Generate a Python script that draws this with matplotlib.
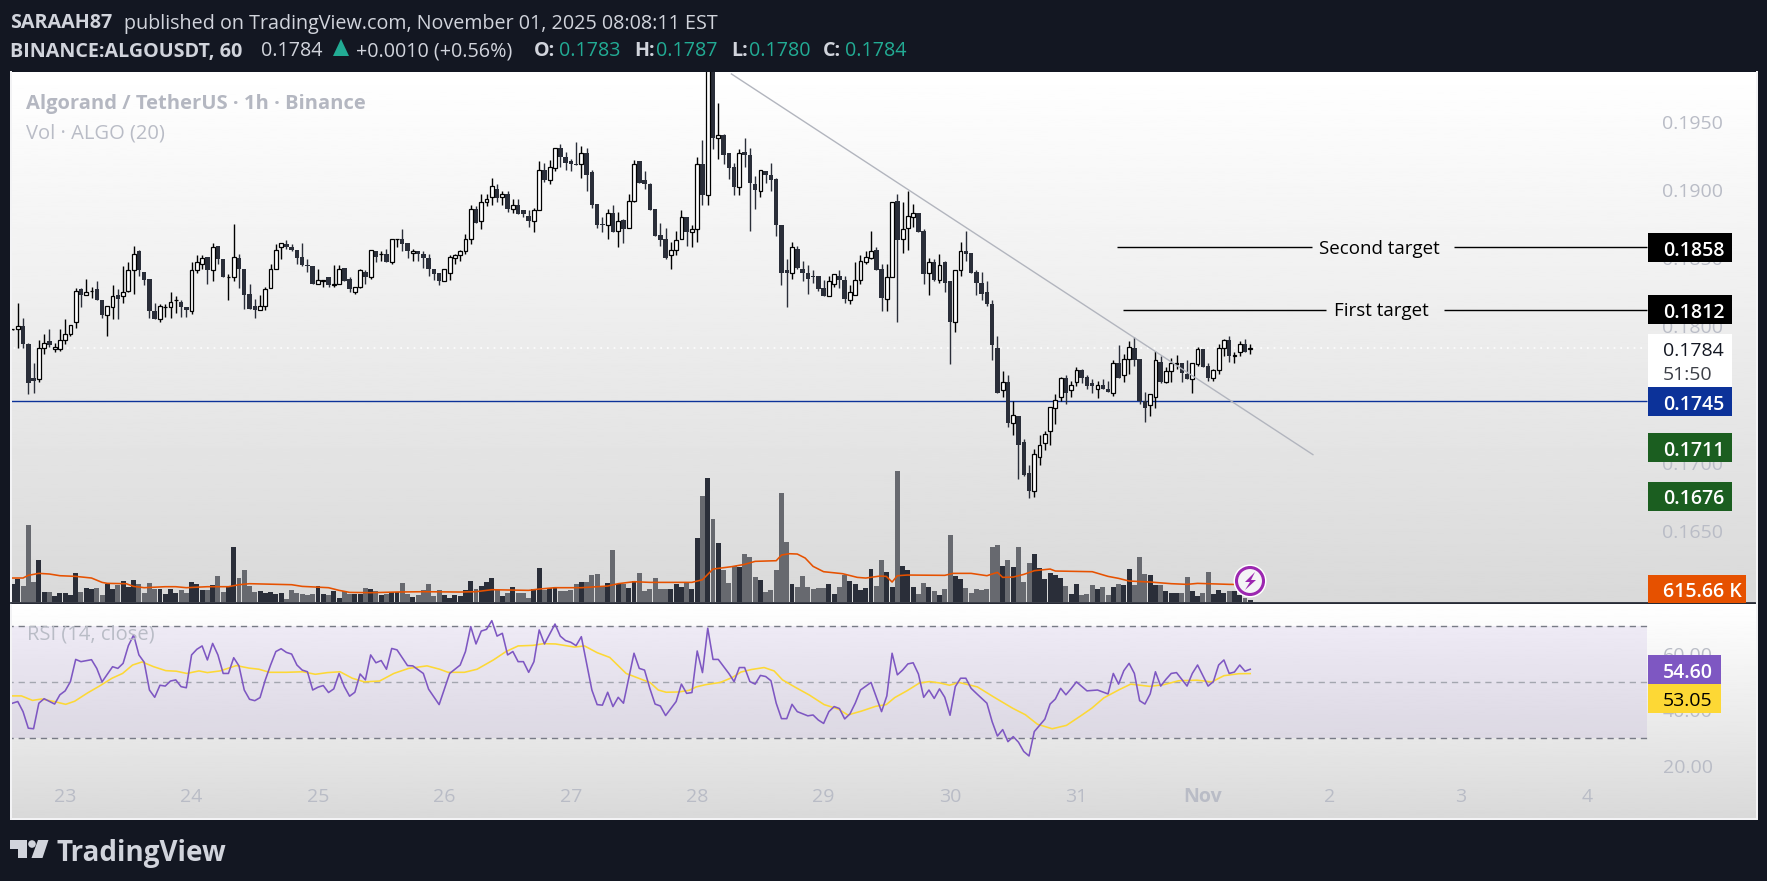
import matplotlib
matplotlib.use('Agg')
import matplotlib.pyplot as plt
from matplotlib.patches import Circle, Polygon, Rectangle
import numpy as np

W, H = 1767, 881

# hourly candles, prices in ten-thousandths of a dollar
opens = [1798,1798,1800,1787,1762,1761,1784,1789,1783,1783,1790,1794,1803,1827,1823,1826,1827,1819,1808,1814,1823,1822,1826,1841,1855,1840,1835,1811,1805,1814,
         1814,1819,1818,1814,1811,1841,1846,1851,1841,1859,1849,1836,1836,1850,1842,1824,1815,1812,1815,1828,1842,1858,1860,1858,1856,1851,1845,1844,1831,1833,
         1836,1830,1831,1843,1835,1825,1829,1840,1836,1855,1853,1853,1847,1864,1864,1861,1854,1855,1853,1850,1842,1839,1833,1839,1850,1852,1855,1864,1886,1877,
         1891,1895,1901,1895,1897,1886,1889,1885,1881,1877,1885,1915,1907,1916,1931,1924,1921,1919,1919,1927,1913,1890,1875,1874,1883,1870,1878,1872,1892,1921,
         1907,1904,1886,1867,1864,1852,1856,1864,1880,1869,1871,1919,1896,1990,1938,1940,1927,1917,1902,1928,1926,1904,1899,1914,1911,1908,1874,1841,1839,1857,
         1842,1839,1837,1837,1828,1822,1831,1837,1834,1819,1823,1834,1847,1850,1856,1842,1820,1836,1892,1864,1872,1880,1883,1870,1839,1847,1834,1847,1833,1803,
         1841,1855,1854,1840,1832,1825,1816,1784,1753,1759,1729,1734,1715,1692,1679,1704,1714,1723,1740,1748,1762,1753,1759,1768,1763,1758,1754,1757,1754,1751,
         1773,1764,1776,1784,1776,1745,1742,1748,1774,1759,1767,1772,1773,1765,1761,1772,1783,1771,1762,1768,1784,1790,1778,1781,1787,1783]
highs = [1798,1817,1806,1788,1773,1790,1794,1798,1788,1798,1805,1801,1828,1828,1835,1829,1833,1819,1815,1830,1827,1844,1847,1859,1856,1840,1835,1817,1816,1816,
         1825,1822,1819,1814,1847,1852,1852,1851,1861,1859,1849,1838,1875,1853,1842,1831,1820,1823,1829,1846,1860,1861,1863,1860,1856,1861,1849,1844,1842,1834,
         1836,1845,1845,1843,1836,1829,1842,1841,1856,1855,1855,1857,1864,1864,1871,1861,1857,1855,1855,1853,1842,1839,1842,1852,1853,1856,1868,1889,1888,1897,
         1897,1909,1904,1899,1899,1893,1893,1885,1885,1887,1921,1920,1922,1931,1934,1928,1923,1935,1932,1931,1915,1890,1880,1886,1889,1884,1879,1897,1922,1921,
         1914,1905,1886,1876,1872,1862,1870,1885,1880,1874,1924,1937,1995,1995,1964,1941,1927,1920,1930,1938,1931,1910,1915,1914,1920,1909,1874,1849,1862,1859,
         1848,1845,1841,1837,1834,1837,1838,1841,1837,1830,1847,1852,1855,1870,1858,1846,1846,1891,1897,1891,1899,1890,1883,1871,1850,1849,1853,1848,1833,1841,
         1862,1870,1854,1841,1840,1833,1819,1793,1767,1764,1745,1734,1717,1698,1710,1720,1723,1741,1750,1763,1764,1760,1770,1769,1764,1761,1760,1761,1760,1775,
         1786,1780,1789,1792,1776,1752,1750,1782,1778,1770,1777,1779,1773,1775,1773,1785,1783,1773,1769,1787,1791,1793,1781,1789,1791,1787]
lows = [1797,1784,1784,1750,1751,1759,1780,1785,1781,1782,1787,1793,1799,1814,1823,1821,1819,1806,1793,1805,1805,1817,1825,1824,1837,1830,1806,1805,1803,1807,
        1806,1810,1807,1807,1809,1839,1842,1831,1833,1846,1836,1819,1833,1828,1813,1813,1806,1812,1812,1828,1842,1849,1857,1855,1846,1844,1840,1831,1831,1829,
        1829,1829,1831,1833,1825,1824,1828,1831,1835,1847,1848,1847,1846,1858,1855,1850,1848,1848,1843,1837,1834,1830,1833,1834,1846,1848,1853,1860,1876,1871,
        1888,1889,1891,1889,1884,1883,1882,1880,1873,1869,1885,1906,1904,1914,1917,1915,1914,1918,1909,1899,1887,1872,1869,1864,1869,1858,1861,1872,1891,1905,
        1901,1885,1866,1859,1849,1842,1852,1864,1859,1858,1862,1889,1889,1930,1923,1919,1908,1896,1896,1917,1870,1886,1895,1905,1899,1866,1830,1814,1835,1842,
        1833,1824,1832,1826,1822,1822,1829,1828,1817,1816,1823,1831,1846,1849,1841,1811,1811,1836,1803,1854,1856,1873,1869,1831,1823,1833,1832,1825,1772,1796,
        1837,1848,1839,1823,1819,1815,1775,1751,1748,1726,1720,1688,1690,1674,1675,1698,1709,1713,1728,1745,1743,1748,1756,1758,1754,1751,1747,1754,1752,1749,
        1762,1759,1765,1771,1743,1730,1734,1740,1758,1758,1759,1769,1759,1761,1751,1771,1770,1760,1760,1765,1778,1774,1773,1778,1781,1780]
closes = [1798,1800,1787,1758,1760,1784,1788,1786,1785,1790,1794,1801,1826,1823,1825,1826,1819,1808,1815,1822,1820,1825,1841,1853,1841,1834,1811,1805,1815,1814,
          1818,1819,1814,1812,1841,1847,1850,1841,1858,1849,1836,1836,1851,1842,1823,1813,1812,1815,1827,1842,1856,1861,1858,1856,1850,1845,1844,1831,1834,1834,
          1830,1831,1842,1833,1827,1829,1841,1836,1856,1851,1853,1847,1864,1864,1860,1855,1855,1853,1850,1842,1838,1833,1842,1851,1852,1855,1864,1886,1876,1891,
          1893,1903,1894,1897,1886,1889,1882,1882,1877,1885,1915,1907,1917,1931,1924,1920,1919,1918,1927,1911,1889,1874,1874,1883,1869,1877,1871,1892,1919,1905,
          1904,1885,1866,1863,1850,1856,1863,1880,1869,1871,1919,1896,1990,1938,1940,1926,1916,1902,1927,1926,1905,1900,1915,1911,1907,1874,1839,1839,1858,1843,
          1839,1835,1836,1827,1822,1833,1838,1834,1820,1825,1834,1848,1851,1855,1841,1821,1836,1891,1863,1871,1881,1883,1869,1838,1847,1834,1845,1832,1803,1841,
          1855,1853,1839,1832,1824,1816,1786,1751,1759,1729,1735,1713,1691,1679,1706,1713,1721,1741,1746,1762,1751,1757,1768,1762,1756,1756,1757,1754,1752,1773,
          1762,1776,1785,1775,1745,1740,1750,1775,1759,1767,1773,1773,1766,1761,1773,1783,1770,1762,1768,1784,1790,1778,1779,1787,1781,1784]

# volume bars, thousands of ALGO
volumes = [616,787,547,2633,684,1436,342,342,205,308,308,239,992,342,479,445,479,239,616,445,581,718,513,752,616,308,650,445,445,274,
           445,308,410,308,684,616,410,410,581,889,342,513,1881,821,1094,547,342,376,308,342,274,308,103,410,308,274,239,274,547,274,
           239,376,137,376,274,274,274,479,445,376,239,274,342,342,650,274,171,239,410,616,205,410,239,137,239,205,410,718,445,547,
           684,821,410,205,308,513,308,308,137,445,1163,410,479,513,376,376,410,616,684,684,923,958,513,650,1778,616,616,479,718,992,
           376,445,821,445,445,445,616,513,650,445,2177,3625,4241,2839,2018,1094,650,1231,1197,1642,1539,855,752,342,410,1094,3728,2052,616,513,
           889,513,445,479,479,616,274,513,923,718,616,410,479,1129,547,1436,1026,513,4480,1231,1094,513,274,650,513,376,239,445,2291,889,
           787,479,308,445,410,445,1881,1949,1231,1436,1197,1881,684,1334,1642,1163,787,992,923,821,547,274,616,239,274,581,445,513,239,513,
           616,581,1129,581,1539,958,923,581,581,376,308,308,308,855,376,205,308,1026,274,410,308,376,353,239,125,46]
vol_ma_idx = [0,2,3,5,7,9,12,15,17,18,21.6,23,25,29,31,33,37,41,43,45,53,55,60,62,64,68,73,78,85,88,
              91,98,100,103,108,113,115,118,121,129,131,133,136.5,139,141,145,146,147.5,149,150.5,152,154,157.6,160.4,162,164.7,165.9,167,168,169.9,
              177,178.6,182,185,187,188,190,192,194,197,198,205,208,210,212,216,220,223,225,231,235]
vol_ma = [810,810,901,969,947,889,866,810,661,627,616,524,479,513,513,479,513,513,581,616,581,524,479,388,319,308,331,342,331,342,
          410,388,433,479,479,536,616,684,661,661,752,1117,1197,1277,1380,1402,1596,1641,1630,1493,1208,1026,958,832,809,877,866,673,889,912,
          901,969,969,889,1003,832,843,934,1060,1117,1049,1026,866,798,707,673,616,593,627,593,582]

rsi_idx = [0,1,2,3,4,5,6,8,9,10,11,12,13,15,16,17,19,20,21,22,23,24,25,26,27,28,29,30,31,32,33,34,35,36,37,38,39,40,41,42,43,44,45,46,47,48,49,50,51,52,53,54,55,56,57,58,59,60,61,62,
           63,64,65,66,67,68,69,70,71,72,73,75,76,78,79,81,83,85,86,87,88,89,90,91,92,93,94,95,96,97,98,99,100,101,103,104,105,106,107,108,110,111,112,113,114,115,116,118,119,120,121,
           122,123,124,126,127,128,129,130,131,132,133,134,136,137,138,139,140,141,142,143,144,145,146,147,148,149,151,152,153,154,155,156,157,158,159,160,161,163,165,166,167,168,169,170,171,172,173,174,175,176,177,178,179,180,181,182,183,
           185,186,187,188,189,190,191,192,193,194,196,197,198,199,200,201,202,204,206,208,209,210,211,212,213,214,215,216,217,218,219,220,221,223,224,225,227,228,229,230,231,232,233,234,235]
rsi = [42.5,43.1,39.5,33.6,33.4,42.5,44.1,42.2,45.5,46.9,50.2,58.1,57.3,58.0,54.9,50.1,55.5,54.9,56.7,63.0,66.8,59.7,57.1,47.2,44.6,48.9,48.6,50.4,50.8,48.4,48.0,59.7,61.7,62.9,57.9,63.8,59.7,53.1,53.1,58.7,55.8,47.2,43.9,43.4,44.5,50.8,56.1,60.9,61.9,60.6,60.0,56.1,54.3,53.7,47.2,48.2,48.8,46.3,47.6,53.1,
       48.4,45.0,46.4,52.9,50.8,59.7,56.9,57.7,54.6,62.0,61.5,55.9,55.8,53.1,47.5,42.0,53.1,56.1,60.9,69.8,63.6,68.2,68.8,71.9,66.4,67.4,59.7,60.9,57.3,57.3,53.5,57.3,68.6,63.6,70.7,66.4,64.8,64.2,63.0,66.2,47.2,42.0,41.8,46.4,41.3,44.6,42.5,60.3,54.9,54.3,47.8,
       42.2,41.5,38.1,43.1,49.3,46.0,46.3,61.1,53.4,69.2,58.1,58.1,53.1,50.2,55.2,55.2,50.2,49.3,52.4,52.0,50.5,42.5,37.0,37.0,42.1,39.5,38.0,38.3,36.5,35.3,39.5,41.3,40.6,36.9,38.7,42.5,47.2,49.9,39.5,45.1,60.3,52.6,54.3,56.5,56.9,52.9,44.6,47.2,44.2,47.6,44.6,38.2,48.4,51.4,51.4,47.8,46.0,
       42.5,35.9,30.8,33.1,28.8,30.6,28.6,25.3,23.7,32.4,36.8,42.2,44.0,47.8,45.5,47.7,50.1,46.9,47.2,45.8,53.1,49.3,54.1,56.7,53.1,43.4,42.2,45.8,53.7,48.6,51.0,53.1,53.4,48.6,53.1,56.1,48.6,50.2,56.1,57.9,53.1,53.6,56.1,53.9,54.6]
rsi_ma_idx = [0,1.7,3.8,5.5,7.9,10.1,11.8,14.2,16.5,18.9,20.9,22.8,24.6,26.8,29.1,31.1,33.1,35.4,37,39.4,42.5,44.9,46.8,48.8,52,55.1,57.5,59.8,62.2,64.5,66.8,69.7,72.4,75.2,78.7,81.1,82.7,85.8,88.2,91.3,93.7,96,98.8,100.8,103.1,106.7,108.6,111,113.4,116.5,121.1,
              122.6,124.1,126.5,128.5,129.8,131.6,134.4,136.7,138.3,140.3,142.7,144.6,146.2,148.6,151.3,154.1,156.8,158.6,161.2,163.9,165.9,167.5,169.8,172.2,174.1,176.1,177.9,179.7,183.2,186.4,189.9,192.3,194.6,197.4,200.1,202.9,204.9,207.2,210,212.3,215.9,218.6,221.4,224.9,227.7,230,232.8,235]
rsi_ma = [45.1,45.1,43.5,44.0,43.1,42.1,43.2,46.1,48.6,51.4,53.1,56.1,57.2,55.5,54.1,53.9,53.1,54.0,53.4,54.0,55.9,55.0,54.6,53.5,53.5,53.7,52.8,53.4,53.7,51.4,50.1,50.4,53.1,54.9,55.8,54.6,53.5,53.5,54.6,57.9,60.9,62.9,63.1,63.7,63.6,62.5,62.9,60.5,58.8,53.1,49.8,
          47.2,46.4,46.5,47.1,48.3,49.1,49.9,51.7,53.6,54.5,55.2,54.0,50.8,48.2,45.4,42.0,40.4,38.3,39.7,41.4,42.0,44.5,46.9,49.7,50.2,49.7,48.9,49.9,48.3,44.6,40.7,38.4,35.0,33.4,34.6,38.1,40.7,44.4,47.2,49.3,48.5,49.1,50.5,50.7,50.1,52.3,53.0,53.05]

price_ticks = [0.1950, 0.1900, 0.1850, 0.1800, 0.1750, 0.1700, 0.1650]
rsi_ticks = [60, 40, 20]
day_idx = [10, 34, 58, 82, 106, 130, 154, 178, 202, 226, 250, 275, 299]
day_labels = ['23', '24', '25', '26', '27', '28', '29', '30', '31', 'Nov', '2', '3', '4']

print(len(opens), len(highs), len(lows), len(closes), len(volumes), len(vol_ma_idx), len(vol_ma), len(rsi_idx), len(rsi), len(rsi_ma_idx), len(rsi_ma))

DARK = '#2a2e39'
GRAY = '#67696f'
AXIS_TXT = '#b9bcc6'
FONT = 'Open Sans'
plt.rcParams['font.family'] = [FONT, 'DejaVu Sans']


def x_of(i):
    return 12.5 + 5.267 * i


def i_of(x):
    return (x - 12.5) / 5.267


def y_of_price(p):
    return 121.8 + (0.195 - p) * 13630


def y_of_rsi(r):
    return 626 + (70 - r) * 2.8075


def pane(x0, y0, x1, y1):
    return fig.add_axes([x0 / W, 1 - y1 / H, (x1 - x0) / W, (y1 - y0) / H])


def gradient(ax, top, bottom):
    g = np.linspace(top, bottom, 256).reshape(-1, 1)
    ax.imshow(g, cmap='gray', vmin=0, vmax=255, aspect='auto', extent=(0, 1, 0, 1),
              transform=ax.transAxes, zorder=0)


fig = plt.figure(figsize=(W / 100, H / 100), dpi=100, facecolor='#131722')

# price pane
ax = pane(11, 72, 1757, 603)
gradient(ax, 255, 217)
ax.axis('off')

n = min(len(opens), len(highs), len(lows), len(closes))
opens_p = np.array(opens[:n]) / 10000
highs_p = np.array(highs[:n]) / 10000
lows_p = np.array(lows[:n]) / 10000
closes_p = np.array(closes[:n]) / 10000
idx = np.arange(n)
up = closes_p >= opens_p

ax.hlines(0.1784, -1, i_of(1647), color='#ffffff', lw=1.2, ls=(0, (1, 3)), zorder=1)
ax.hlines(0.1745, -1, i_of(1647), color='#0c3299', lw=1.0, zorder=2)

ax.vlines(idx[up], lows_p[up], highs_p[up], color='#000000', lw=1.0, zorder=3)
ax.vlines(idx[~up], lows_p[~up], highs_p[~up], color=DARK, lw=1.0, zorder=3)
ax.bar(idx[~up], closes_p[~up] - opens_p[~up], bottom=opens_p[~up], width=0.85, color=DARK, lw=0, zorder=4)
ax.bar(idx[up], closes_p[up] - opens_p[up], bottom=opens_p[up], width=0.72, facecolor='#ffffff',
       edgecolor='#000000', lw=0.9, zorder=4)

# drawings
ax.plot([136.5, 246.9], [0.19851, 0.17058], color='#b2b5be', lw=1.0, zorder=5)
ax.hlines([0.1858, 0.1858], [i_of(1117.3), i_of(1454)], [i_of(1311.7), i_of(1647)], color='#000000', lw=1.0, zorder=5)
ax.hlines([0.1812, 0.1812], [i_of(1123.3), i_of(1444)], [i_of(1326), i_of(1647)], color='#000000', lw=1.0, zorder=5)
ax.set_xlim(i_of(11), i_of(1757))
ax.set_ylim(0.195 - (603 - 121.8) / 13630, 0.195 + (121.8 - 72) / 13630)

# volume pane, same area as the price pane
ax_vol = pane(11, 72, 1757, 603)
ax_vol.patch.set_alpha(0)
ax_vol.axis('off')
m = min(n, len(volumes))
bar_colors = [DARK if u else GRAY for u in up[:m]]
ax_vol.bar(idx[:m], volumes[:m], width=0.94, color=bar_colors, lw=0, zorder=2)
ax_vol.plot(vol_ma_idx, vol_ma, color='#e65100', lw=1.15, zorder=3)
ax_vol.set_xlim(i_of(11), i_of(1757))
ax_vol.set_ylim(-1.3 * 34.2, (601.7 - 72) * 34.2)

# RSI pane
ax_rsi = pane(11, 604, 1757, 818)
gradient(ax_rsi, 255, 217)
ax_rsi.axis('off')
ax_rsi.fill_between([-1, i_of(1647)], 30, 70, color='#7e57c2', alpha=0.1, lw=0, zorder=1)
ax_rsi.hlines([70, 30], -1, i_of(1647), color='#787b86', lw=1.0, ls=(0, (4.5, 3.5)), zorder=2)
ax_rsi.hlines(50, -1, i_of(1647), color='#a3a6af', lw=1.0, ls=(0, (4.5, 3.5)), zorder=2)
ax_rsi.plot(rsi_ma_idx, rsi_ma, color='#fdd835', lw=1.15, zorder=3)
ax_rsi.plot(rsi_idx, rsi, color='#7e57c2', lw=1.15, zorder=4)
ax_rsi.set_xlim(i_of(11), i_of(1757))
ax_rsi.set_ylim(70 - (818 - 626) / 2.8075, 70 + (626 - 604) / 2.8075)

# overlay in image pixels, for the axis labels, badges and header
ov = fig.add_axes([0, 0, 1, 1])
ov.set_xlim(0, W)
ov.set_ylim(H, 0)
ov.axis('off')
ov.patch.set_alpha(0)


def label(x, y, s, color, size=14, weight='normal', ha='left', zorder=10):
    ov.text(x, y, s, color=color, fontsize=size, fontweight=weight, ha=ha, va='center_baseline', zorder=zorder)


def badge(y0, y1, x1, face, text, tcolor='#ffffff', weight='semibold', tx=1663):
    ov.add_patch(Rectangle((1648, y0), x1 - 1648, y1 - y0, facecolor=face, lw=0, zorder=6))
    label(tx, (y0 + y1) / 2 + 0.5, text, tcolor, weight=weight)


# panel frame
for x0, y0, x1, y1 in [(10, 71, 11.5, 820), (1755.5, 71, 1758, 820), (10, 817.5, 1758, 820)]:
    ov.add_patch(Rectangle((x0, y0), x1 - x0, y1 - y0, facecolor='#f3f3f5', lw=0, zorder=1))
ov.plot([11, 1755], [603, 603], color=DARK, lw=1.3, zorder=5)

for p in price_ticks:
    label(1662, y_of_price(p), '%.4f' % p, AXIS_TXT, zorder=4)
for r in rsi_ticks:
    label(1663, y_of_rsi(r), '%.2f' % r, AXIS_TXT, zorder=4)
for i, s in zip(day_idx, day_labels):
    label(x_of(i), 795, s, AXIS_TXT, ha='center', weight='bold' if s == 'Nov' else 'normal')

badge(233, 262, 1732, '#000000', '0.1858')
badge(295, 324, 1732, '#000000', '0.1812')
ov.add_patch(Rectangle((1648, 334), 84, 54, facecolor='#ffffff', lw=0, zorder=6))
label(1663, 349, '0.1784', '#131722')
label(1663, 373, '51:50', '#3c3f47')
badge(387, 416, 1732, '#0c3299', '0.1745')
badge(433, 462, 1732, '#1b5e20', '0.1711')
badge(482, 511, 1732, '#1b5e20', '0.1676')
badge(575, 603, 1746, '#e65100', '615.66 K')
badge(655, 684, 1721, '#7e57c2', '54.60')
badge(684, 713, 1721, '#fdd835', '53.05', tcolor='#000000', weight='normal')

label(1319, 247, 'Second target', '#000000', size=13.5)
label(1334, 309, 'First target', '#000000', size=13.5)

label(26, 101.5, 'Algorand / TetherUS \u00b7 1h \u00b7 Binance', '#b4b7c1', size=14.5, weight='bold')
label(26, 130.5, 'Vol \u00b7 ALGO (20)', '#b9bcc6', size=14.5)
label(27, 632, 'RSI (14, close)', '#b9bcc6', size=14.5)

# alert icon
ov.add_patch(Circle((1250, 581), 16.5, facecolor='#ffffff', lw=0, zorder=7))
ov.add_patch(Circle((1250, 581), 13.5, facecolor='#f4f4f6', edgecolor='#9c27b0', lw=2.2, zorder=8))
ov.add_patch(Polygon([(1255, 572), (1245, 582), (1250, 582), (1245, 590), (1256, 580), (1251, 580)],
                     facecolor='#9c27b0', lw=0, zorder=9))

# header
HEAD = '#d1d4dc'
TEAL = '#22ab94'
label(10, 21, 'SARAAH87', HEAD, size=14.2, weight='bold')
label(124, 21, 'published on TradingView.com, November 01, 2025 08:08:11 EST', HEAD, size=14.2)
label(10, 49, 'BINANCE:ALGOUSDT, 60', HEAD, size=14.2, weight='bold')
label(261, 49, '0.1784', HEAD, size=14.2)
ov.add_patch(Polygon([(341, 39), (333, 56), (349, 56)], facecolor=TEAL, lw=0, zorder=10))
label(356, 49, '+0.0010 (+0.56%)', HEAD, size=14.2)
for x, s in [(534, 'O:'), (634, 'H:'), (731, 'L:'), (823, 'C:')]:
    label(x, 49, s, HEAD, size=14.2, weight='bold')
for x, s in [(559, '0.1783'), (656, '0.1787'), (749, '0.1780'), (845, '0.1784')]:
    label(x, 49, s, TEAL, size=14.2)

# TradingView logo
LOGO = '#d1d4dc'
ov.add_patch(Polygon([(10, 840), (27, 840), (27, 858), (18, 858), (18, 849), (10, 849)], facecolor=LOGO, lw=0))
ov.add_patch(Circle((32, 844), 3.8, facecolor=LOGO, lw=0))
ov.add_patch(Polygon([(38, 840), (48.5, 840), (42.5, 858), (31.5, 858)], facecolor=LOGO, lw=0))
label(56, 849.5, 'TradingView', LOGO, size=20, weight='bold')

fig.savefig('out.png', dpi=100, facecolor=fig.get_facecolor())
